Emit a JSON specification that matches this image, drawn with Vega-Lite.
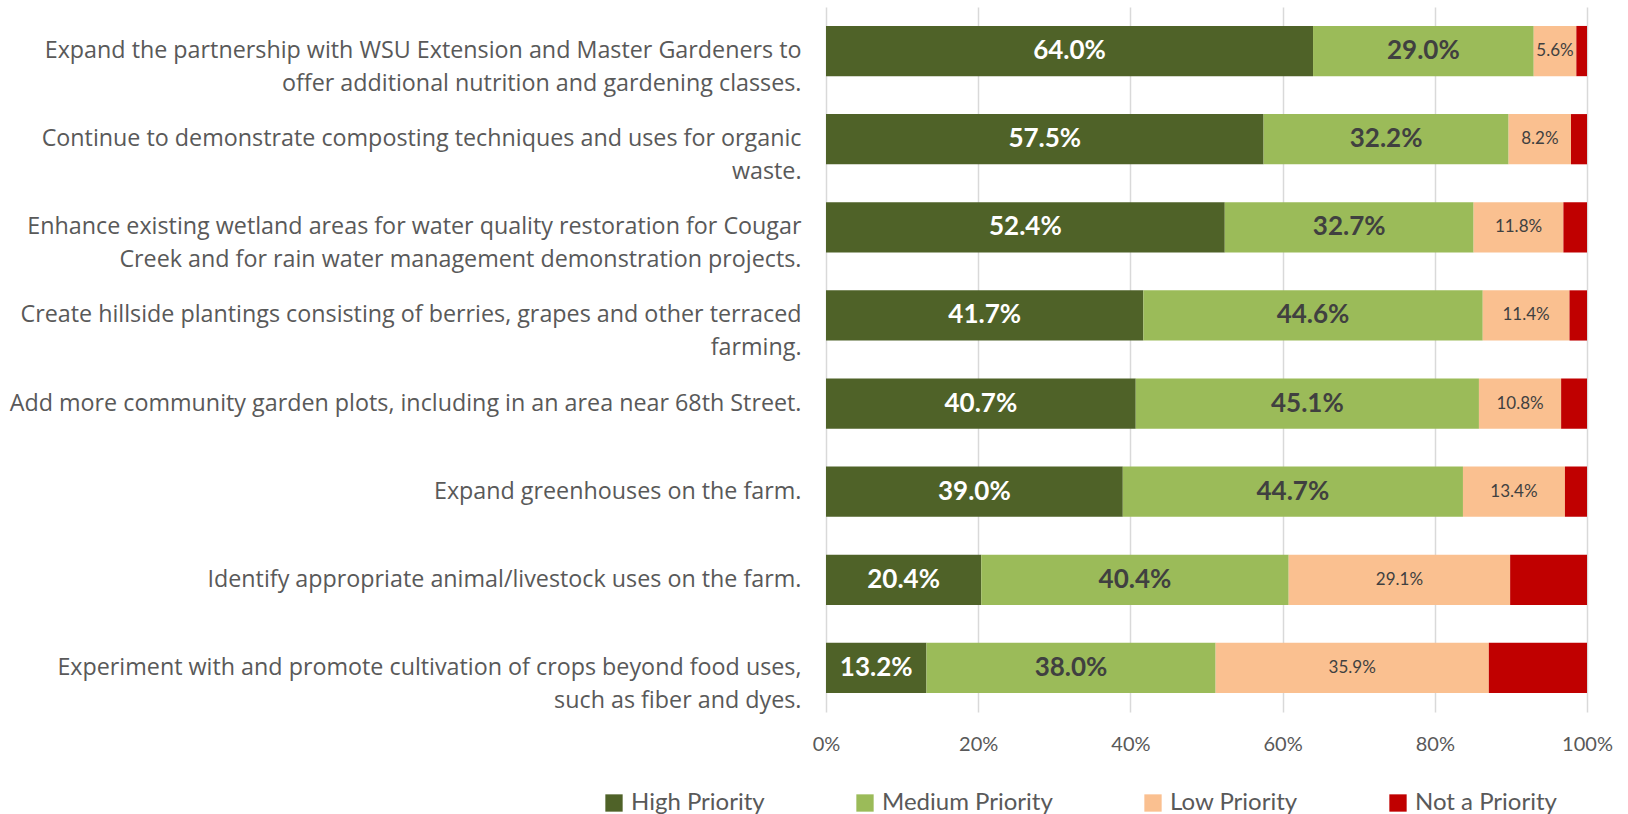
{
  "$schema": "https://vega.github.io/schema/vega-lite/v6.json",
  "width": 761,
  "height": 705,
  "padding": {"left": 9, "top": 7, "right": 5, "bottom": 5},
  "background": "white",
  "config": {
    "view": {"stroke": null},
    "font": "Lato",
    "axisX": {
      "format": ".0%",
      "domain": false,
      "ticks": false,
      "grid": true,
      "gridColor": "#d9d9d9",
      "gridWidth": 1.5,
      "labelFont": "Lato",
      "labelFontSize": 20,
      "labelColor": "#595959",
      "labelPadding": 22,
      "labelOverlap": false,
      "labelFlush": false,
      "tickCount": 5,
      "title": null
    }
  },
  "data": {
    "values": [
      {"item": "Expand the partnership with WSU Extension and Master Gardeners to|offer additional nutrition and gardening classes.", "priority": "High Priority", "order": 1, "value": 0.640},
      {"item": "Expand the partnership with WSU Extension and Master Gardeners to|offer additional nutrition and gardening classes.", "priority": "Medium Priority", "order": 2, "value": 0.290},
      {"item": "Expand the partnership with WSU Extension and Master Gardeners to|offer additional nutrition and gardening classes.", "priority": "Low Priority", "order": 3, "value": 0.056},
      {"item": "Expand the partnership with WSU Extension and Master Gardeners to|offer additional nutrition and gardening classes.", "priority": "Not a Priority", "order": 4, "value": 0.014},
      {"item": "Continue to demonstrate composting techniques and uses for organic|waste.", "priority": "High Priority", "order": 1, "value": 0.575},
      {"item": "Continue to demonstrate composting techniques and uses for organic|waste.", "priority": "Medium Priority", "order": 2, "value": 0.322},
      {"item": "Continue to demonstrate composting techniques and uses for organic|waste.", "priority": "Low Priority", "order": 3, "value": 0.082},
      {"item": "Continue to demonstrate composting techniques and uses for organic|waste.", "priority": "Not a Priority", "order": 4, "value": 0.021},
      {"item": "Enhance existing wetland areas for water quality restoration for Cougar|Creek and for rain water management demonstration projects.", "priority": "High Priority", "order": 1, "value": 0.524},
      {"item": "Enhance existing wetland areas for water quality restoration for Cougar|Creek and for rain water management demonstration projects.", "priority": "Medium Priority", "order": 2, "value": 0.327},
      {"item": "Enhance existing wetland areas for water quality restoration for Cougar|Creek and for rain water management demonstration projects.", "priority": "Low Priority", "order": 3, "value": 0.118},
      {"item": "Enhance existing wetland areas for water quality restoration for Cougar|Creek and for rain water management demonstration projects.", "priority": "Not a Priority", "order": 4, "value": 0.031},
      {"item": "Create hillside plantings consisting of berries, grapes and other terraced|farming.", "priority": "High Priority", "order": 1, "value": 0.417},
      {"item": "Create hillside plantings consisting of berries, grapes and other terraced|farming.", "priority": "Medium Priority", "order": 2, "value": 0.446},
      {"item": "Create hillside plantings consisting of berries, grapes and other terraced|farming.", "priority": "Low Priority", "order": 3, "value": 0.114},
      {"item": "Create hillside plantings consisting of berries, grapes and other terraced|farming.", "priority": "Not a Priority", "order": 4, "value": 0.023},
      {"item": "Add more community garden plots, including in an area near 68th Street.", "priority": "High Priority", "order": 1, "value": 0.407},
      {"item": "Add more community garden plots, including in an area near 68th Street.", "priority": "Medium Priority", "order": 2, "value": 0.451},
      {"item": "Add more community garden plots, including in an area near 68th Street.", "priority": "Low Priority", "order": 3, "value": 0.108},
      {"item": "Add more community garden plots, including in an area near 68th Street.", "priority": "Not a Priority", "order": 4, "value": 0.034},
      {"item": "Expand greenhouses on the farm.", "priority": "High Priority", "order": 1, "value": 0.390},
      {"item": "Expand greenhouses on the farm.", "priority": "Medium Priority", "order": 2, "value": 0.447},
      {"item": "Expand greenhouses on the farm.", "priority": "Low Priority", "order": 3, "value": 0.134},
      {"item": "Expand greenhouses on the farm.", "priority": "Not a Priority", "order": 4, "value": 0.029},
      {"item": "Identify appropriate animal/livestock uses on the farm.", "priority": "High Priority", "order": 1, "value": 0.204},
      {"item": "Identify appropriate animal/livestock uses on the farm.", "priority": "Medium Priority", "order": 2, "value": 0.404},
      {"item": "Identify appropriate animal/livestock uses on the farm.", "priority": "Low Priority", "order": 3, "value": 0.291},
      {"item": "Identify appropriate animal/livestock uses on the farm.", "priority": "Not a Priority", "order": 4, "value": 0.101},
      {"item": "Experiment with and promote cultivation of crops beyond food uses,|such as fiber and dyes.", "priority": "High Priority", "order": 1, "value": 0.132},
      {"item": "Experiment with and promote cultivation of crops beyond food uses,|such as fiber and dyes.", "priority": "Medium Priority", "order": 2, "value": 0.380},
      {"item": "Experiment with and promote cultivation of crops beyond food uses,|such as fiber and dyes.", "priority": "Low Priority", "order": 3, "value": 0.359},
      {"item": "Experiment with and promote cultivation of crops beyond food uses,|such as fiber and dyes.", "priority": "Not a Priority", "order": 4, "value": 0.129}
    ]
  },
  "encoding": {
    "y": {
      "field": "item",
      "type": "nominal",
      "sort": null,
      "title": null,
      "scale": {"paddingInner": 0.43, "paddingOuter": 0.215},
      "axis": {
        "domain": false,
        "ticks": false,
        "labelFont": "Open Sans",
        "labelFontSize": 23.3,
        "labelColor": "#595959",
        "labelLimit": 900,
        "labelPadding": 25,
        "labelLineHeight": 33,
        "labelExpr": "split(datum.label, '|')"
      }
    },
    "order": {"field": "order", "type": "quantitative"}
  },
  "layer": [
    {
      "mark": {"type": "bar"},
      "encoding": {
        "x": {
          "field": "value",
          "type": "quantitative",
          "stack": "normalize",
          "title": null,
          "scale": {"domain": [0, 1]}
        },
        "color": {
          "field": "priority",
          "type": "nominal",
          "sort": ["High Priority", "Medium Priority", "Low Priority", "Not a Priority"],
          "scale": {
            "domain": ["High Priority", "Medium Priority", "Low Priority", "Not a Priority"],
            "range": ["#4f6228", "#9bbb59", "#fac090", "#c00000"]
          },
          "legend": {
            "title": null,
            "orient": "none",
            "direction": "horizontal",
            "legendX": -224,
            "legendY": 784,
            "symbolType": "square",
            "symbolSize": 300,
            "symbolStrokeWidth": 0,
            "symbolOpacity": 1,
            "labelFont": "Lato",
            "labelFontSize": 24,
            "labelColor": "#595959",
            "labelOffset": 5,
            "columnPadding": 88,
            "labelLimit": 300
          }
        }
      }
    },
    {
      "mark": {"type": "text", "fontWeight": "bold", "fontSize": 26, "font": "Lato"},
      "encoding": {
        "x": {"field": "value", "type": "quantitative", "stack": "normalize", "bandPosition": 0.5, "title": null},
        "detail": {"field": "priority"},
        "text": {
          "condition": {"test": "datum.priority == 'High Priority' || datum.priority == 'Medium Priority'", "field": "value", "type": "quantitative", "format": ".1%"},
          "value": ""
        },
        "color": {
          "condition": {"test": "datum.priority == 'High Priority'", "value": "#ffffff"},
          "value": "#404040"
        }
      }
    },
    {
      "mark": {"type": "text", "fontSize": 17, "font": "Lato", "color": "#404040"},
      "encoding": {
        "x": {"field": "value", "type": "quantitative", "stack": "normalize", "bandPosition": 0.5, "title": null},
        "detail": {"field": "priority"},
        "text": {
          "condition": {"test": "datum.priority == 'Low Priority'", "field": "value", "type": "quantitative", "format": ".1%"},
          "value": ""
        }
      }
    }
  ]
}
